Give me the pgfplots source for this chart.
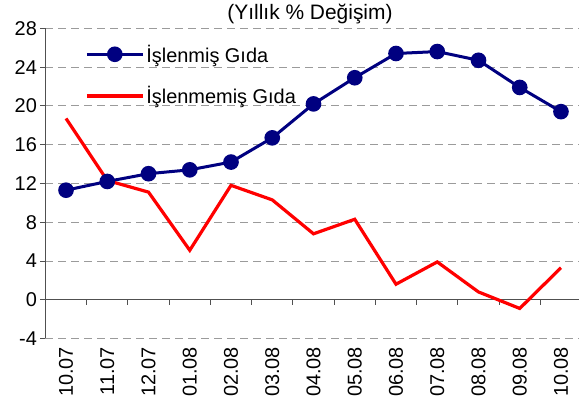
\documentclass[border=0pt]{standalone}
\usepackage{fontspec}
\setmainfont{Liberation Sans}
\usepackage{pgfplots}
\pgfplotsset{compat=1.18}
\definecolor{navyb}{RGB}{0,0,128}
\definecolor{gridg}{RGB}{155,155,155}
\definecolor{axg}{RGB}{80,80,80}

\pgfplotstableread{
x islenmis islenmemis
0 11.3 18.7
1 12.2 12.3
2 13.0 11.1
3 13.4 5.1
4 14.2 11.8
5 16.7 10.3
6 20.2 6.8
7 22.9 8.3
8 25.4 1.6
9 25.6 3.9
10 24.7 0.8
11 21.9 -0.9
12 19.4 3.3
}\datatable

\begin{document}
\begin{tikzpicture}
\useasboundingbox (0,0) rectangle (579bp,412bp);
\begin{axis}[
  at={(45.4bp,73.5bp)}, anchor=south west,
  scale only axis, width=536.2bp, height=310.2bp,
  xmin=-0.5, xmax=12.5, ymin=-4, ymax=28,
  axis y line*=left, axis x line*=bottom,
  x axis line style={draw=none},
  y axis line style={axg, line width=0.8pt, -},
  ytick={-4,0,...,28},
  xtick={0,...,12},
  xticklabels={10.07,11.07,12.07,01.08,02.08,03.08,04.08,05.08,06.08,07.08,08.08,09.08,10.08},
  xtick style={draw=none},
  ytick style={axg, line width=0.8pt},
  tick align=outside, major tick length=5bp,
  ymajorgrids, grid style={gridg, dash pattern=on 8bp off 5bp, line width=0.8pt},
  xticklabel style={rotate=90, anchor=east, font=\fontsize{20}{24}\selectfont},
  yticklabel style={font=\fontsize{20}{24}\selectfont},
  /pgf/number format/assume math mode=true,
  legend style={draw=none, fill=none, at={(rel axis cs:0.0683,0.96)}, anchor=north west,
    row sep=19bp, font=\fontsize{20}{24}\selectfont},
  legend cell align=left,
  legend image code/.code={\draw[mark repeat=2,mark phase=2,#1] plot coordinates {(0bp,0bp) (28bp,0bp) (56bp,0bp)};},
]
\draw[axg, line width=0.8pt] (axis cs:-0.5,0) -- (axis cs:12.5,0);
\pgfplotsinvokeforeach{-0.5,0.5,1.5,2.5,3.5,4.5,5.5,6.5,7.5,8.5,9.5,10.5,11.5,12.5}{
  \draw[axg, line width=0.8pt] (axis cs:#1,0) -- ([yshift=-5bp]axis cs:#1,0);
}
\addplot[navyb, line width=3bp, mark=*, mark size=6.3bp, mark options={fill=navyb, draw=navyb}]
  table[x=x, y=islenmis] {\datatable};
\addlegendentry{İşlenmiş Gıda}
\addplot[red, line width=3.2bp, mark=none]
  table[x=x, y=islenmemis] {\datatable};
\addlegendentry{İşlenmemiş Gıda}
\end{axis}
\node[font=\fontsize{21}{25}\selectfont, anchor=base] at (310bp,392bp) {(Yıllık \% Değişim)};
\end{tikzpicture}
\end{document}
